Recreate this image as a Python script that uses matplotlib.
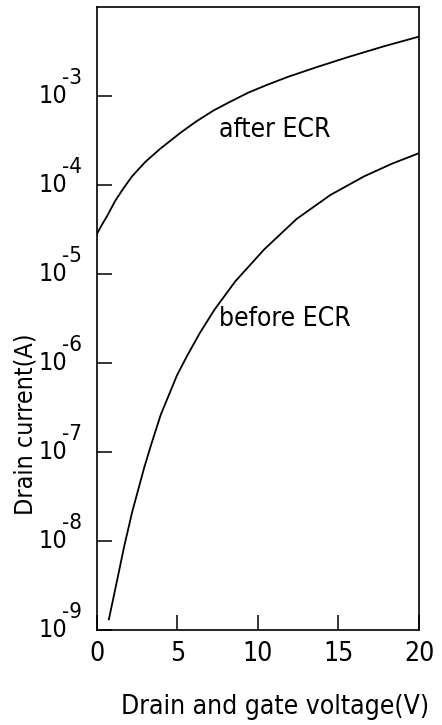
import numpy as np
import matplotlib.pyplot as plt

# values (voltage in V, log10 of current in A)
v_after = [0.0, 0.3, 0.63, 1.13, 1.6, 2.19, 3.0, 3.94, 5.2, 6.2, 7.25, 8.3, 9.4,
           10.6, 11.9, 13.7, 15.6, 17.8, 20.0]
logi_after = [-4.55, -4.45, -4.35, -4.18, -4.05, -3.90, -3.74, -3.59, -3.41, -3.28,
              -3.16, -3.06, -2.96, -2.87, -2.78, -2.67, -2.56, -2.44, -2.33]

v_before = [0.75, 1.25, 1.7, 2.2, 2.95, 3.35, 3.97, 4.97, 5.6, 6.4, 7.3, 8.6,
            10.4, 12.4, 14.5, 16.6, 18.3, 20.0]
logi_before = [-8.88, -8.45, -8.06, -7.67, -7.17, -6.93, -6.58, -6.14, -5.92, -5.66,
               -5.40, -5.08, -4.72, -4.38, -4.11, -3.90, -3.76, -3.64]

x_ticks = [0, 5, 10, 15, 20]
y_exps = [-9, -8, -7, -6, -5, -4, -3]

font = dict(family='DejaVu Sans', fontstretch='condensed')

fig = plt.figure(figsize=(4.42, 7.25), dpi=100)
ax = fig.add_axes([0.219, 0.131, 0.729, 0.859])

ax.plot(v_after, 10 ** np.array(logi_after), color='k', lw=1.3)
ax.plot(v_before, 10 ** np.array(logi_before), color='k', lw=1.3)

ax.set_yscale('log')
ax.set_xlim(0, 20)
ax.set_ylim(1e-9, 1e-2)
ax.minorticks_off()

ax.set_xticks(x_ticks)
ax.set_xticklabels([str(t) for t in x_ticks], fontsize=19, **font)
ax.set_yticks([10.0 ** e for e in y_exps])
ax.set_yticklabels([])

ax.tick_params(direction='in', length=11, width=1.1, pad=8, top=False, right=False)
for s in ax.spines.values():
    s.set_linewidth(1.2)

# y tick labels: "10" with a large raised exponent
for e in y_exps:
    ax.annotate('10', xy=(0, 10.0 ** e), xycoords=('axes fraction', 'data'),
                xytext=(-29, 0), textcoords='offset pixels', ha='right', va='center',
                fontsize=18, **font)
    ax.annotate(str(e), xy=(0, 10.0 ** e), xycoords=('axes fraction', 'data'),
                xytext=(-35, 8), textcoords='offset pixels', ha='left', va='bottom',
                fontsize=16, **font)

ax.set_xlabel('Drain and gate voltage(V)', fontsize=19, **font)
ax.xaxis.set_label_coords(0.553, -0.102)
ax.set_ylabel('Drain current(A)', fontsize=18, **font)
ax.yaxis.set_label_coords(-0.184, 0.33)

ax.text(7.6, 10 ** -3.38, 'after ECR', fontsize=19, va='center', **font)
ax.text(7.6, 10 ** -5.5, 'before ECR', fontsize=19, va='center', **font)

fig.savefig('out.png', dpi=100)
